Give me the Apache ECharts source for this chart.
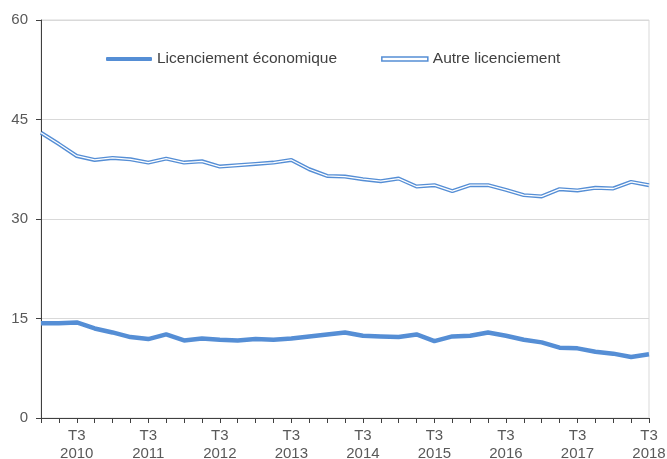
<!DOCTYPE html>
<html>
<head>
<meta charset="utf-8">
<script src="https://cdn.jsdelivr.net/npm/echarts@6/dist/echarts.min.js"></script>
<style>html,body{margin:0;padding:0;background:#fff;overflow:hidden}#c{width:667px;height:459px}</style>
</head>
<body>
<div id="c"></div>
<script>
var categories = [];
var years = [2010, 2011, 2012, 2013, 2014, 2015, 2016, 2017, 2018];
years.forEach(function (y) {
  ['T1', 'T2', 'T3', 'T4'].forEach(function (q) { categories.push(q + ' ' + y); });
});
categories = categories.slice(0, 35); // T1 2010 .. T3 2018

var economique = [14.3, 14.3, 14.4, 13.5, 12.9, 12.2, 11.9, 12.6, 11.7, 12.0,
  11.8, 11.7, 11.9, 11.8, 12.0, 12.3, 12.6, 12.9, 12.4, 12.3,
  12.2, 12.6, 11.6, 12.3, 12.4, 12.9, 12.4, 11.8, 11.4, 10.6,
  10.5, 10.0, 9.7, 9.2, 9.6];
var autre = [43.0, 41.3, 39.5, 38.9, 39.2, 39.0, 38.5, 39.1, 38.5, 38.7,
  37.9, 38.1, 38.3, 38.5, 38.9, 37.5, 36.5, 36.4, 36.0, 35.7,
  36.1, 34.9, 35.1, 34.2, 35.1, 35.1, 34.4, 33.6, 33.4, 34.5,
  34.3, 34.7, 34.6, 35.6, 35.1];
var yTicks = [0, 15, 30, 45, 60];

var blue = '#558ed5';
var font = 'Liberation Sans, Arial, sans-serif';
var chart = echarts.init(document.getElementById('c'));
chart.setOption({
  animation: false,
  textStyle: { fontFamily: font },
  grid: { left: 41, right: 18, top: 20, bottom: 41, outerBoundsMode: 'none', containLabel: false,
    show: true, borderColor: '#d9d9d9', borderWidth: 1 },
  legend: {
    left: 106, top: 51, padding: 0,
    itemWidth: 46, itemHeight: 4, itemGap: 44,
    textStyle: { fontSize: 15.5, color: '#404040', fontFamily: font },
    data: [
      { name: 'Licenciement économique', icon: 'roundRect', itemStyle: { color: blue } },
      { name: 'Autre licenciement', icon: 'rect', itemStyle: { color: '#ffffff', borderColor: blue, borderWidth: 1.5 } }
    ]
  },
  xAxis: {
    type: 'category', data: categories, boundaryGap: false,
    axisLine: { lineStyle: { color: '#404040', width: 1 } },
    axisTick: { show: true, interval: 0, length: 5, lineStyle: { color: '#404040' } },
    axisLabel: {
      interval: function (i) { return i % 4 === 2; },
      formatter: function (v) { return v.replace(' ', '\n'); },
      fontSize: 15, color: '#595959', lineHeight: 18, margin: 9
    },
    splitLine: { show: false }
  },
  yAxis: {
    type: 'value', min: yTicks[0], max: yTicks[yTicks.length - 1], interval: 15,
    axisLine: { show: true, lineStyle: { color: '#404040', width: 1 } },
    axisTick: { show: true, length: 5, lineStyle: { color: '#404040' } },
    axisLabel: { fontSize: 15, color: '#595959', margin: 13 },
    splitLine: { lineStyle: { color: '#d9d9d9', width: 1 } }
  },
  series: [
    { name: 'Licenciement économique', type: 'line', data: economique, symbol: 'none',
      lineStyle: { color: blue, width: 4.5 }, itemStyle: { color: blue } },
    { name: 'Autre licenciement', type: 'line', data: autre, symbol: 'none',
      lineStyle: { color: blue, width: 4 }, itemStyle: { color: blue } },
    { name: 'autre_inner', type: 'line', data: autre, symbol: 'none',
      lineStyle: { color: '#ffffff', width: 1.3 }, itemStyle: { color: '#ffffff' } }
  ]
});
</script>
</body>
</html>
